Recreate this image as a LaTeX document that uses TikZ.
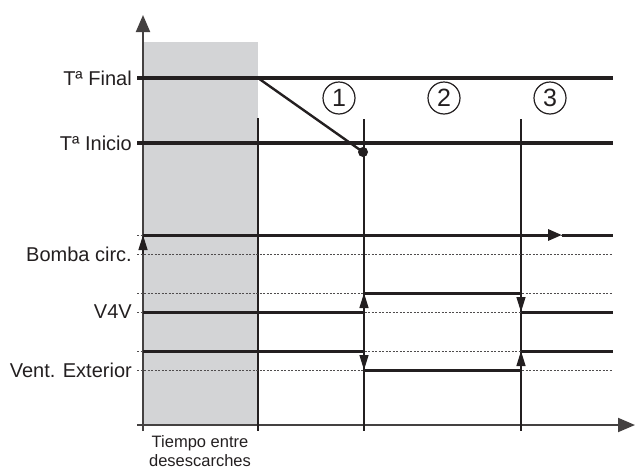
\documentclass[tikz,border=0pt]{standalone}
\usepackage{fontspec}
\setmainfont{Liberation Sans}
\usetikzlibrary{arrows.meta,positioning}
\definecolor{ink}{RGB}{35,31,32}
\definecolor{greyband}{RGB}{211,212,214}

\begin{document}
\begin{tikzpicture}[
    x=1pt,y=-1pt,
    every node/.style={text=ink},
    lbl/.style={anchor=east,inner sep=0pt,font=\fontsize{20}{22}\selectfont},
    phase/.style={circle,draw=ink,line width=1.2pt,minimum size=32pt,inner sep=0pt,
      font=\fontsize{25}{25}\selectfont},
    axis/.style={-{Triangle[length=17pt,width=14pt]},line width=2pt,draw=ink!85},
    level/.style={line width=3.2pt,draw=ink},
    signal/.style={line width=3pt,draw=ink},
    guide/.style={line width=1pt,draw=ink!80,dash pattern=on 2pt off 1.5pt},
    marker/.style={line width=1.3pt,draw=ink},
    switch/.style={line width=1.3pt,draw=ink,-{Triangle[length=15pt,width=9pt]}}
  ]
    \useasboundingbox (0,0) rectangle (635,469);

    % time between defrosts
    \fill[greyband] (143,42) rectangle (258,425);

    % axes
    \coordinate (orig) at (143,425);
    \coordinate (ytop) at (143,15);
    \coordinate (xend) at (635,425);
    \draw[axis] (143,431) -- (ytop);
    \draw[axis] (137,425) -- (xend);

    % phase boundaries
    \foreach \px/\py in {258/118,364/119,521/119}
      \draw[marker] (\px,\py) -- (\px,431);

    % labels
    \node[lbl] (tfin) at (132,78) {Tª Final};
    \node[lbl] (tini) at (132,143) {Tª Inicio};
    \node[lbl] (bomba) at (132,254) {Bomba circ.};
    \node[lbl] (v4v) at (132,312) {V4V};
    \node[lbl] (vent) at (132,370) {Vent. Exterior};
    \node[align=center,font=\fontsize{16.5}{19.5}\selectfont] (gap) at (200,451)
      {Tiempo entre\\desescarches};

    \node[phase] (p1) at (339,98) {1};
    \node[phase] (p2) at (444,98) {2};
    \node[phase] (p3) at (550,98) {3};

    % temperatures
    \draw[level] (137,78) -- (613,78);
    \draw[level] (137,143) -- (613,143);
    \coordinate (melt) at (258,78);
    \node[circle,fill=ink,inner sep=0pt,minimum size=10pt] (stop) at (363,152) {};
    \draw[line width=2.4pt,draw=ink] (melt) -- (stop.center);

    % dotted levels
    \foreach \ly in {235,254,293,312,351,370}
      \draw[guide] (137,\ly) -- (613,\ly);

    % Bomba circ.
    \coordinate (b0) at (143,254);
    \coordinate (b1) at (143,235);
    \coordinate (bm) at (562,235);
    \coordinate (b2) at (613,235);
    \draw[switch] (b0) -- (b1);
    \draw[signal,-{Triangle[length=14pt,width=11pt]}] (b1) -- (bm);
    \draw[signal] (bm) -- (b2);

    % V4V
    \coordinate (v0) at (143,312);
    \coordinate (v1) at (364,312);
    \coordinate (v2) at (364,293);
    \coordinate (v3) at (521,293);
    \coordinate (v4) at (521,312);
    \coordinate (v5) at (613,312);
    \draw[signal] (v0) -- (v1);
    \draw[switch] (v1) -- (v2);
    \draw[signal] (v2) -- (v3);
    \draw[switch] (v3) -- (v4);
    \draw[signal] (v4) -- (v5);

    % Vent. Exterior
    \coordinate (e0) at (143,351);
    \coordinate (e1) at (364,351);
    \coordinate (e2) at (364,370);
    \coordinate (e3) at (521,370);
    \coordinate (e4) at (521,351);
    \coordinate (e5) at (613,351);
    \draw[signal] (e0) -- (e1);
    \draw[switch] (e1) -- (e2);
    \draw[signal] (e2) -- (e3);
    \draw[switch] (e3) -- (e4);
    \draw[signal] (e4) -- (e5);
  \end{tikzpicture}
\end{document}
